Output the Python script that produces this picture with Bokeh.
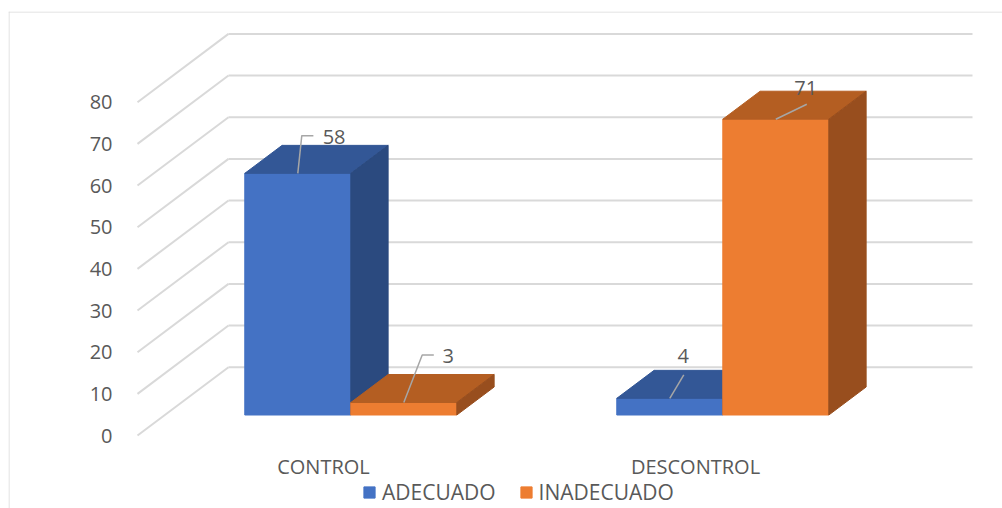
from bokeh.plotting import figure
from bokeh.models import (Range1d, LinearAxis, FixedTicker, Legend, LegendItem,
                          ColumnDataSource, Span)
from bokeh.core.properties import value
from bokeh.embed import file_html
from bokeh.resources import INLINE

# ---- data ---------------------------------------------------------------
categories = ["CONTROL", "DESCONTROL"]
series_names = ["ADECUADO", "INADECUADO"]
adecuado = [58, 4]
inadecuado = [3, 71]
y_ticks = [0, 10, 20, 30, 40, 50, 60, 70, 80]

# ---- style --------------------------------------------------------------
FONT = "Open Sans"
TEXT_COLOR = "#595959"
GRID_COLOR = "#D9D9D9"
LEADER_COLOR = "#A6A6A6"
FACES = {  # front, top, side
    "ADECUADO": ("#4472C4", "#335796", "#2B4A7F"),
    "INADECUADO": ("#ED7D31", "#B45E22", "#984E1E"),
}

# ---- scales -------------------------------------------------------------
W, H = 994, 497              # canvas size (the page adds an 8/11 px margin)
PX_PER_CAT = 372.0           # px per category slot on the front plane
PX_PER_VAL = 333.3 / 80      # px per value unit
ORIGIN_X_PX = 129            # canvas x of the front-left floor corner
ORIGIN_Y_PX = 73             # height of value 0 above the canvas bottom
X_START = 0.5                # floor starts half a slot before category 1

x_range = Range1d(X_START - ORIGIN_X_PX / PX_PER_CAT,
                  X_START + (W - ORIGIN_X_PX) / PX_PER_CAT)
y_range = Range1d(-ORIGIN_Y_PX / PX_PER_VAL, (H - ORIGIN_Y_PX) / PX_PER_VAL)

# oblique depth axis: z = 0 at the front edge of the floor, z = 1 at the back wall
DEPTH_X = 91 / PX_PER_CAT
DEPTH_Y = 68.3 / PX_PER_VAL
BAR_W = 0.285
BAR_Z0, BAR_Z1 = 0.30, 0.71
N_CATS = len(categories)


def proj(x, v, z):
    return x + z * DEPTH_X, v + z * DEPTH_Y


def poly(pts):
    xs, ys = zip(*[proj(*p) for p in pts])
    return list(xs), list(ys)


p = figure(width=W, height=H, x_range=x_range, y_range=y_range,
           x_axis_location=None, y_axis_location=None, title=None,
           toolbar_location=None, output_backend="svg", min_border=0,
           margin=(11, 0, 0, 8))
p.grid.visible = False
p.outline_line_color = None
p.background_fill_color = "white"
p.border_fill_color = "white"

# chart-area border: left and top edges
p.add_layout(Span(location=0.5, location_units="screen", dimension="height",
                  line_color=GRID_COLOR, line_width=1))
p.add_layout(Span(location=H - 0.5, location_units="screen", dimension="width",
                  line_color=GRID_COLOR, line_width=1))

# ---- walls: back-wall gridlines and side-wall diagonals -----------------
x_left, x_right = X_START, X_START + N_CATS
back_xs, back_ys, side_xs, side_ys = [], [], [], []
for t in y_ticks:
    bx, by = poly([(x_left, t, 1), (x_right, t, 1)])
    back_xs.append(bx)
    back_ys.append(by)
    sx, sy = poly([(x_left, t, 0), (x_left, t, 1)])
    side_xs.append(sx)
    side_ys.append(sy)
p.multi_line(back_xs + side_xs, back_ys + side_ys, line_color=GRID_COLOR, line_width=2)

# ---- 3D bars --------------------------------------------------------------
values = {"ADECUADO": adecuado, "INADECUADO": inadecuado}
front_renderers = {}
tops = {}  # front-top centre of every bar, for the value labels
for s_idx, name in enumerate(series_names):
    faces = {"front": ([], []), "top": ([], []), "side": ([], [])}
    for c_idx in range(N_CATS):
        centre = c_idx + 1
        x0 = centre - BAR_W + s_idx * BAR_W
        x1 = x0 + BAR_W
        v = values[name][c_idx]
        z0, z1 = BAR_Z0, BAR_Z1
        for face, pts in (
            ("front", [(x0, 0, z0), (x1, 0, z0), (x1, v, z0), (x0, v, z0)]),
            ("top", [(x0, v, z0), (x1, v, z0), (x1, v, z1), (x0, v, z1)]),
            ("side", [(x1, 0, z0), (x1, 0, z1), (x1, v, z1), (x1, v, z0)]),
        ):
            xs, ys = poly(pts)
            faces[face][0].append(xs)
            faces[face][1].append(ys)
        tops[(c_idx, s_idx)] = proj((x0 + x1) / 2, v, z0)
    for f_idx, face in enumerate(("front", "top", "side")):
        col = FACES[name][f_idx]
        r = p.patches(faces[face][0], faces[face][1], fill_color=col,
                      line_color=col, line_width=1)
        if face == "front":
            front_renderers[name] = r

# ---- value labels with leader lines ---------------------------------------
# leader bends and label centres as px offsets from the bar's front-top centre
leader_px = {
    (0, 0): [(0, 0), (4, 37.7), (15.6, 37.7)],
    (0, 1): [(0, 0), (18.4, 47.5), (30, 47.5)],
    (1, 0): [(0, 0), (14, 23.4)],
    (1, 1): [(0, 0), (31, 15)],
}
label_px = {(0, 0): (36.3, 36.7), (0, 1): (44.5, 46.3),
            (1, 0): (13.5, 42), (1, 1): (30, 31.3)}

lx, ly, lt, lead_xs, lead_ys = [], [], [], [], []
for c_idx in range(N_CATS):
    for s_idx, name in enumerate(series_names):
        bx, by = tops[(c_idx, s_idx)]
        lead_xs.append([bx + dx / PX_PER_CAT for dx, dy in leader_px[(c_idx, s_idx)]])
        lead_ys.append([by + dy / PX_PER_VAL for dx, dy in leader_px[(c_idx, s_idx)]])
        dx, dy = label_px[(c_idx, s_idx)]
        lx.append(bx + dx / PX_PER_CAT)
        ly.append(by + dy / PX_PER_VAL)
        lt.append(str(values[name][c_idx]))

p.multi_line(lead_xs, lead_ys, line_color=LEADER_COLOR, line_width=1.5)
p.text(x="x", y="y", text="text",
       source=ColumnDataSource(dict(x=lx, y=ly, text=lt)),
       text_font=value(FONT), text_font_size="20px", text_color=TEXT_COLOR,
       text_align="center", text_baseline="middle")

# ---- axes ---------------------------------------------------------------
yaxis = LinearAxis(fixed_location=X_START, ticker=FixedTicker(ticks=y_ticks))
xaxis = LinearAxis(fixed_location=0,
                   ticker=FixedTicker(ticks=list(range(1, N_CATS + 1))),
                   major_label_overrides={i + 1: c for i, c in enumerate(categories)})
for ax in (yaxis, xaxis):
    ax.axis_line_color = None
    ax.major_tick_line_color = None
    ax.minor_tick_line_color = None
    ax.major_label_text_font = FONT
    ax.major_label_text_font_size = "20px"
    ax.major_label_text_color = TEXT_COLOR
yaxis.major_label_standoff = 19
xaxis.major_label_standoff = 11
p.add_layout(yaxis, "left")
p.add_layout(xaxis, "below")

# ---- legend ---------------------------------------------------------------
legend = Legend(
    items=[LegendItem(label=n, renderers=[front_renderers[n]]) for n in series_names],
    orientation="horizontal", location=(354, 2),
    glyph_width=14, glyph_height=14, label_standoff=6, spacing=23,
    padding=0, margin=0, border_line_color=None, background_fill_alpha=0,
    label_text_font=FONT, label_text_font_size="21px", label_text_color=TEXT_COLOR,
)
p.add_layout(legend, "center")

open("out.html", "w").write(file_html(p, INLINE))
